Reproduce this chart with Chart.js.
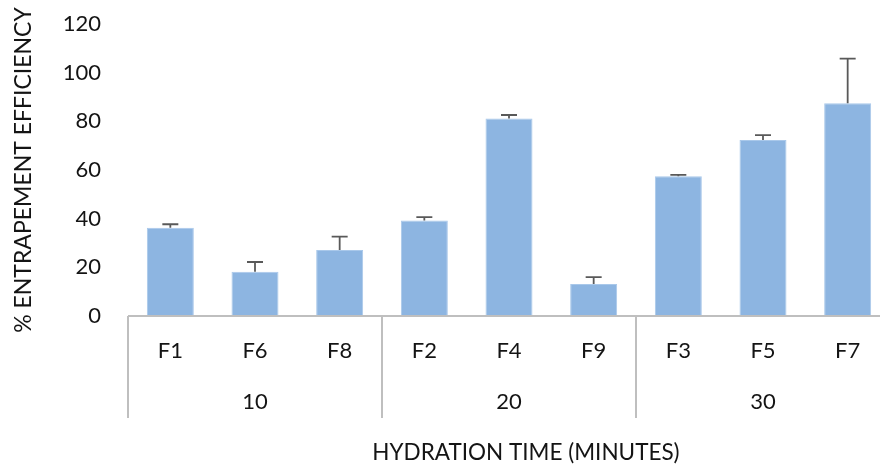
<!DOCTYPE html>
<html>
<head>
<meta charset="utf-8">
<script src="https://cdn.jsdelivr.net/npm/chart.js@4"></script>
<style>
  html, body { margin: 0; padding: 0; background: #ffffff; overflow: hidden; }
  #wrap { position: absolute; left: 0; top: 0; width: 900px; height: 467px; }
</style>
</head>
<body>
<div id="wrap"><canvas id="c" width="900" height="467"></canvas></div>
<script>
// ---- data ----
const categories = ['F1', 'F6', 'F8', 'F2', 'F4', 'F9', 'F3', 'F5', 'F7'];
const groupLabels = ['10', '20', '30'];
const groupSizes = [3, 3, 3];
const values = [36.3, 18.2, 27.1, 39.2, 81.2, 13.2, 57.4, 72.3, 87.4];
const errors = [1.4, 4.0, 5.5, 1.4, 1.4, 2.8, 0.6, 2.0, 18.4];
const yMin = 0, yMax = 120, yStep = 20;
const yTitle = '% ENTRAPEMENT EFFICIENCY';
const xTitle = 'HYDRATION TIME (MINUTES)';

const FONT = 'Lato, "Liberation Sans", sans-serif';
const TEXT = '#141414';
const AXIS = '#bfbfbf';

const extras = {
  id: 'extras',
  afterDatasetsDraw(chart) {
    const ctx = chart.ctx;
    const y = chart.scales.y;
    const meta = chart.getDatasetMeta(0);
    ctx.save();
    ctx.strokeStyle = '#595959';
    ctx.lineWidth = 1.8;
    meta.data.forEach((bar, i) => {
      const top = y.getPixelForValue(values[i] + errors[i]);
      ctx.beginPath();
      ctx.moveTo(bar.x, bar.y);
      ctx.lineTo(bar.x, top);
      ctx.moveTo(bar.x - 8, top);
      ctx.lineTo(bar.x + 8, top);
      ctx.stroke();
    });
    ctx.restore();
  },
  afterDraw(chart) {
    const ctx = chart.ctx;
    const x = chart.scales.x;
    const area = chart.chartArea;
    const half = (x.getPixelForValue(1) - x.getPixelForValue(0)) / 2;
    ctx.save();
    ctx.strokeStyle = AXIS;
    ctx.lineWidth = 2;
    ctx.beginPath();
    ctx.moveTo(area.left, area.bottom);
    ctx.lineTo(area.right, area.bottom);
    ctx.stroke();
    let start = 0;
    const bounds = [area.left];
    groupSizes.forEach(n => {
      start += n;
      bounds.push(x.getPixelForValue(start - 1) + half);
    });
    bounds.forEach(b => {
      ctx.beginPath();
      ctx.moveTo(b, area.bottom);
      ctx.lineTo(b, area.bottom + 102);
      ctx.stroke();
    });
    ctx.fillStyle = TEXT;
    ctx.font = '22px ' + FONT;
    ctx.textAlign = 'center';
    ctx.textBaseline = 'middle';
    groupLabels.forEach((g, i) => {
      ctx.fillText(g, (bounds[i] + bounds[i + 1]) / 2, area.bottom + 86);
    });
    ctx.font = '22.5px ' + FONT;
    ctx.fillText(xTitle, (area.left + area.right) / 2 + 17, area.bottom + 137);
    ctx.restore();
  }
};

new Chart(document.getElementById('c'), {
  type: 'bar',
  data: {
    labels: categories,
    datasets: [{
      data: values,
      backgroundColor: '#8db5e1',
      borderColor: '#a9c8ea',
      borderWidth: 1,
      categoryPercentage: 1,
      barPercentage: 0.555
    }]
  },
  options: {
    responsive: false,
    animation: false,
    layout: { padding: { top: 24, left: 0, right: 10, bottom: 0 } },
    plugins: { legend: { display: false }, tooltip: { enabled: false } },
    scales: {
      x: {
        grid: { display: false, drawTicks: false, tickLength: 0 },
        border: { display: false },
        ticks: { color: TEXT, font: { family: FONT, size: 22 }, padding: 22, maxRotation: 0 },
        afterFit(s) { s.height = 151; }
      },
      y: {
        min: yMin, max: yMax,
        grid: { display: false, drawTicks: false, tickLength: 0 },
        border: { display: false },
        ticks: { stepSize: yStep, color: TEXT, font: { family: FONT, size: 22 }, padding: 27 },
        title: { display: true, text: yTitle, color: TEXT, font: { family: FONT, size: 23 }, padding: { top: 10, bottom: 0 } },
        afterFit(s) { s.width = 128; s.paddingTop = 0; s.paddingBottom = 0; }
      }
    }
  },
  plugins: [extras]
});
</script>
</body>
</html>
